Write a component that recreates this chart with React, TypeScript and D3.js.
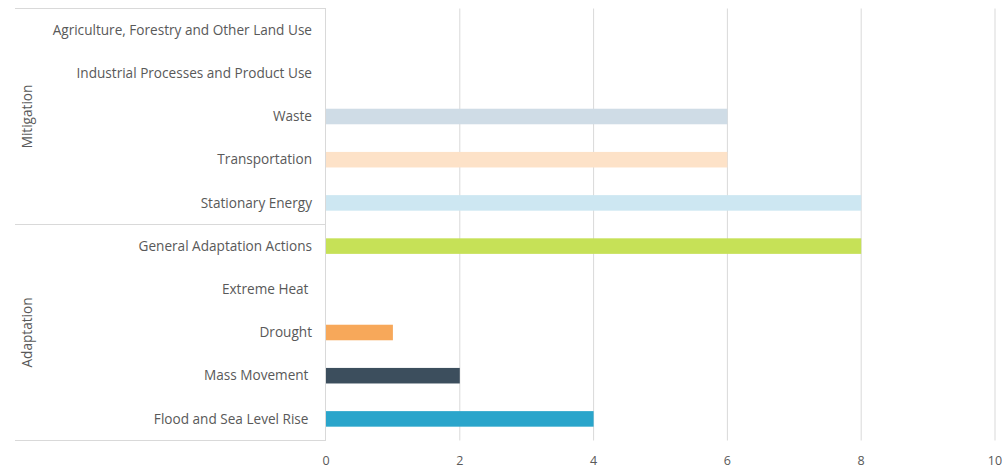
import React from "react";
import * as d3 from "d3";

const categories = [
  "Agriculture, Forestry and Other Land Use",
  "Industrial Processes and Product Use",
  "Waste",
  "Transportation",
  "Stationary Energy",
  "General Adaptation Actions",
  "Extreme Heat ",
  "Drought",
  "Mass Movement ",
  "Flood and Sea Level Rise ",
];
const values = [0, 0, 6, 6, 8, 8, 0, 1, 2, 4];
const colors = [
  "#cfdce6",
  "#fde2c8",
  "#cfdce6",
  "#fde2c8",
  "#cde7f2",
  "#c6e157",
  "#f3c7a0",
  "#f7a85a",
  "#3c4e5d",
  "#2aa5cb",
];
const groups = [
  { name: "Mitigation", start: 0, end: 5 },
  { name: "Adaptation", start: 5, end: 10 },
];
const ticks = [0, 2, 4, 6, 8, 10];

const W = 1005;
const H = 468;
const x0 = 326;
const x1 = 995;
const yTop = 8.5;
const yBot = 440.5;
const groupLeft = 15;
const font = "'Open Sans', Lato, sans-serif";
const textColor = "#595959";
const lineColor = "#d9d9d9";

export default function App() {
  const x = d3.scaleLinear().domain([0, 10]).range([x0, x1]);
  const y = d3.scaleBand<number>().domain(d3.range(categories.length)).range([yTop, yBot]).paddingInner(0).paddingOuter(0);
  const bh = y.bandwidth() * 0.36;

  return (
    <svg width={W} height={H} style={{ position: "absolute", left: 0, top: 0, background: "#fff" }}>
      {ticks.slice(1).map((t) => (
        <line key={t} x1={x(t)} x2={x(t)} y1={yTop} y2={yBot} stroke={lineColor} strokeWidth={1} />
      ))}
      {values.map((v, i) =>
        v > 0 ? (
          <rect key={i} x={x(0)} y={y(i)! + y.bandwidth() / 2 - bh / 2} width={x(v) - x(0)} height={bh} fill={colors[i]} />
        ) : null
      )}
      <line x1={x0 - 0.5} x2={x0 - 0.5} y1={yTop} y2={yBot} stroke={lineColor} strokeWidth={1} />
      {[0, 5, 10].map((k) => (
        <line key={k} x1={groupLeft} x2={x0} y1={k === 10 ? yBot : y(k)!} y2={k === 10 ? yBot : y(k)!} stroke={lineColor} strokeWidth={1} />
      ))}
      {categories.map((c, i) => (
        <text
          key={c}
          x={312}
          y={y(i)! + y.bandwidth() / 2}
          dy="0.35em"
          textAnchor="end"
          fontFamily={font}
          fontSize={13.6}
          fill={textColor}
          style={{ whiteSpace: "pre" }}
        >
          {c}
        </text>
      ))}
      {groups.map((g) => {
        const cy = (y(g.start)! + (g.end === 10 ? yBot : y(g.end)!)) / 2;
        return (
          <text
            key={g.name}
            transform={`translate(${32},${cy}) rotate(-90)`}
            textAnchor="middle"
            fontFamily={font}
            fontSize={13.6}
            fill={textColor}
          >
            {g.name}
          </text>
        );
      })}
      {ticks.map((t) => (
        <text key={t} x={x(t)} y={461} dy="0.35em" textAnchor="middle" fontFamily={font} fontSize={12.5} fill={textColor}>
          {t}
        </text>
      ))}
    </svg>
  );
}
